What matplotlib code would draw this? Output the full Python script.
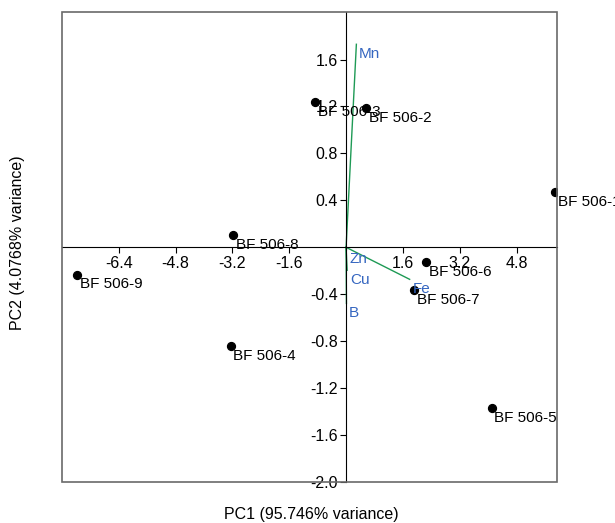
import numpy as np
import matplotlib
matplotlib.use('Agg')
import matplotlib.pyplot as plt
from matplotlib.patches import Rectangle

plt.rcParams['font.family'] = ['Liberation Sans', 'DejaVu Sans']

# scores
samples = ['BF 506-1', 'BF 506-2', 'BF 506-3', 'BF 506-4', 'BF 506-5',
           'BF 506-6', 'BF 506-7', 'BF 506-8', 'BF 506-9']
pc1 = [5.88, 0.575, -0.862, -3.25, 4.10, 2.245, 1.907, -3.18, -7.57]
pc2 = [0.467, 1.183, 1.237, -0.845, -1.368, -0.125, -0.364, 0.102, -0.233]

# loadings
elements = ['Mn', 'Fe', 'Zn', 'Cu', 'B']
load_x = [0.29, 1.79, 0.01, 0.03, 0.01]
load_y = [1.73, -0.273, -0.02, -0.196, -0.478]

xticks = [-6.4, -4.8, -3.2, -1.6, 1.6, 3.2, 4.8]
yticks = [1.6, 1.2, 0.8, 0.4, -0.4, -0.8, -1.2, -1.6, -2.0]

fig = plt.figure(figsize=(6.15, 5.23), dpi=100)
ax = fig.add_axes([62/615, 1 - 482/523, 495/615, 470/523])

for x, y in zip(load_x, load_y):
    ax.plot([0, x], [0, y], color='#1e9a55', lw=1.0, zorder=2)
for name, x, y in zip(elements, load_x, load_y):
    ax.annotate(name, (x, y), xytext=(2, -2), textcoords='offset points',
                ha='left', va='top', color='#3566c0', fontsize=11, zorder=4)

ax.scatter(pc1, pc2, s=32, color='black', zorder=3)
for name, x, y in zip(samples, pc1, pc2):
    ax.annotate(name, (x, y), xytext=(2, -2), textcoords='offset points',
                ha='left', va='top', color='black', fontsize=11,
                annotation_clip=False, zorder=4)

ax.set_xlim(-8.0, 5.94)
ax.set_ylim(-2.0, 2.005)

for s in ['top', 'right']:
    ax.spines[s].set_visible(False)
ax.spines['left'].set_position(('data', 0))
ax.spines['bottom'].set_position(('data', 0))
ax.spines['left'].set_color('black')
ax.spines['bottom'].set_color('black')
ax.add_patch(Rectangle((0, 0), 1, 1, transform=ax.transAxes, fill=False,
                       edgecolor='#6a6a6a', lw=1.2, zorder=5, clip_on=False))

ax.set_xticks(xticks)
ax.set_xticklabels(['%.1f' % v for v in xticks])
ax.set_yticks(yticks)
ax.set_yticklabels(['%.1f' % v for v in yticks])
ax.tick_params(axis='both', direction='out', length=4, width=0.8,
               labelsize=11.5, pad=2)

fig.text(311/615, 1 - 515/523, 'PC1 (95.746% variance)', ha='center',
         va='center', fontsize=11.5)
fig.text(18/615, 1 - 243/523, 'PC2 (4.0768% variance)', ha='center',
         va='center', rotation=90, fontsize=11.5)

fig.savefig('out.png', dpi=100)
